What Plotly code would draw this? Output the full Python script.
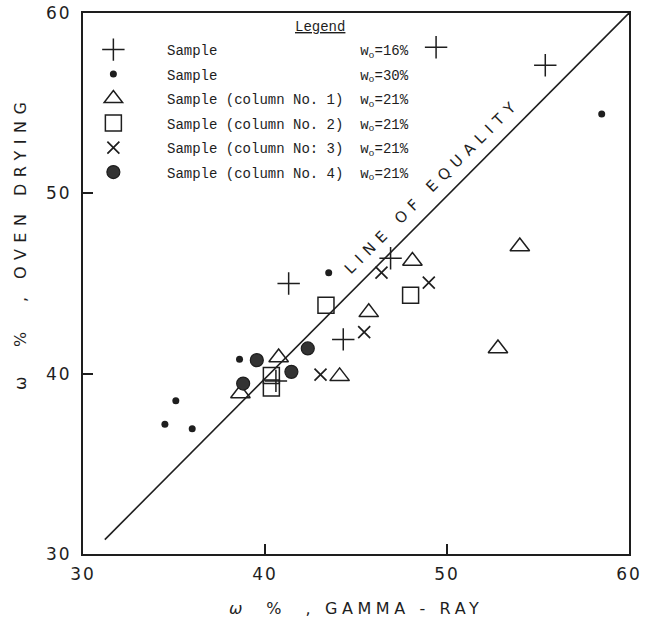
import plotly.graph_objects as go

# ---- data ----
plus_x = [49.4, 55.4, 46.9, 41.3, 44.3, 40.6]
plus_y = [58.1, 57.1, 46.4, 45.0, 41.9, 39.6]

dot_x = [58.5, 43.5, 38.6, 35.1, 34.5, 36.0]
dot_y = [54.4, 45.6, 40.8, 38.5, 37.2, 36.95]

tri_x = [54.0, 48.1, 45.7, 52.8, 44.1, 40.75, 38.65]
tri_y = [47.05, 46.25, 43.4, 41.4, 39.85, 40.9, 38.9]

sq_x = [43.35, 48.0, 40.35, 40.35]
sq_y = [43.8, 44.35, 39.9, 39.2]

xm_x = [46.4, 49.0, 45.45, 43.05]
xm_y = [45.6, 45.05, 42.3, 39.95]

circ_x = [39.55, 38.8, 41.45, 42.35]
circ_y = [40.75, 39.45, 40.1, 41.4]

equality_x = [31.2, 60.0]
equality_y = [30.8, 60.0]

series_labels = ["Sample", "Sample", "Sample (column No. 1)", "Sample (column No. 2)",
                 "Sample (column No: 3)", "Sample (column No. 4)"]
series_w0 = ["16%", "30%", "21%", "21%", "21%", "21%"]

tick_vals = [30, 40, 50, 60]
tick_text = ["30", "40", "50", "60"]

INK = "#1e1e1e"
NB = "\u00a0"
MONO = "Liberation Mono"


def legend_name(i):
    return NB * 4 + series_labels[i].replace(" ", NB).ljust(23, NB) + "w<sub>o</sub>=" + series_w0[i]


fig = go.Figure()

fig.add_trace(go.Scatter(x=equality_x, y=equality_y, mode="lines",
                         line=dict(color=INK, width=1.6), showlegend=False, hoverinfo="skip"))

styles = [
    (plus_x, plus_y, dict(symbol="cross-thin", size=16, color=INK, line=dict(width=1.5, color=INK))),
    (dot_x, dot_y, dict(symbol="circle", size=7, color=INK, line=dict(width=0))),
    (tri_x, tri_y, dict(symbol="triangle-up-open", size=17, color=INK, line=dict(width=1.5))),
    (sq_x, sq_y, dict(symbol="square-open", size=16, color=INK, line=dict(width=1.5))),
    (xm_x, xm_y, dict(symbol="x-thin", size=12, color=INK, line=dict(width=1.7, color=INK))),
    (circ_x, circ_y, dict(symbol="circle", size=13, color="#333333", line=dict(width=1.2, color=INK))),
]
for i, (xs, ys, mk) in enumerate(styles):
    fig.add_trace(go.Scatter(x=xs, y=ys, mode="markers", marker=mk,
                             name=legend_name(i), legendgroup=f"g{i}"))

spaced_ticks = ["<span style='letter-spacing:2px'>%s</span>" % t for t in tick_text]

axis_common = dict(
    range=[30, 60], tickvals=tick_vals, ticktext=spaced_ticks,
    ticks="inside", ticklen=10, tickwidth=1.8, tickcolor=INK,
    showline=True, linecolor=INK, linewidth=2, mirror=True,
    showgrid=False, zeroline=False, automargin=False,
    tickfont=dict(family="DejaVu Sans", size=17, color=INK),
)

fig.update_layout(
    width=662, height=623,
    margin=dict(l=83, r=33, t=13, b=69, autoexpand=False),
    paper_bgcolor="white", plot_bgcolor="white",
    xaxis=dict(**axis_common, ticklabelstandoff=4),
    yaxis=dict(**axis_common, ticklabelstandoff=6),
    showlegend=True,
    legend=dict(x=0.019, y=(554 - 34) / 541, xanchor="left", yanchor="top",
                bgcolor="rgba(0,0,0,0)", borderwidth=0,
                font=dict(family=MONO, size=14, color=INK),
                tracegroupgap=3.3, itemsizing="trace"),
    annotations=[
        dict(text="<u>Legend</u>", xref="paper", yref="paper",
             x=(320 - 83) / 546, y=(554 - 17) / 541, showarrow=False,
             font=dict(family=MONO, size=14, color=INK)),
        dict(text="<span style='letter-spacing:6.5px'>LINE OF EQUALITY</span>",
             x=49.2, y=50.4, xref="x", yref="y", showarrow=False, textangle=-45,
             font=dict(family="DejaVu Sans", size=15, color=INK)),
        dict(text="<span style='letter-spacing:4.6px'><i>ω</i>  %  , GAMMA - RAY</span>",
             xref="paper", yref="paper", x=0.5, y=(554 - 608) / 541,
             yanchor="middle", showarrow=False,
             font=dict(family="DejaVu Sans", size=16, color=INK)),
        dict(text="<span style='letter-spacing:6.5px'>ω  %  , OVEN DRYING</span>",
             xref="paper", yref="paper", x=(20 - 83) / 546, y=(554 - 243) / 541,
             xanchor="center", yanchor="middle", textangle=-90, showarrow=False,
             font=dict(family="DejaVu Sans", size=16, color=INK)),
    ],
)

fig.write_html("out.html", config={"displayModeBar": False},
               post_script="document.body.style.margin='0px';")
